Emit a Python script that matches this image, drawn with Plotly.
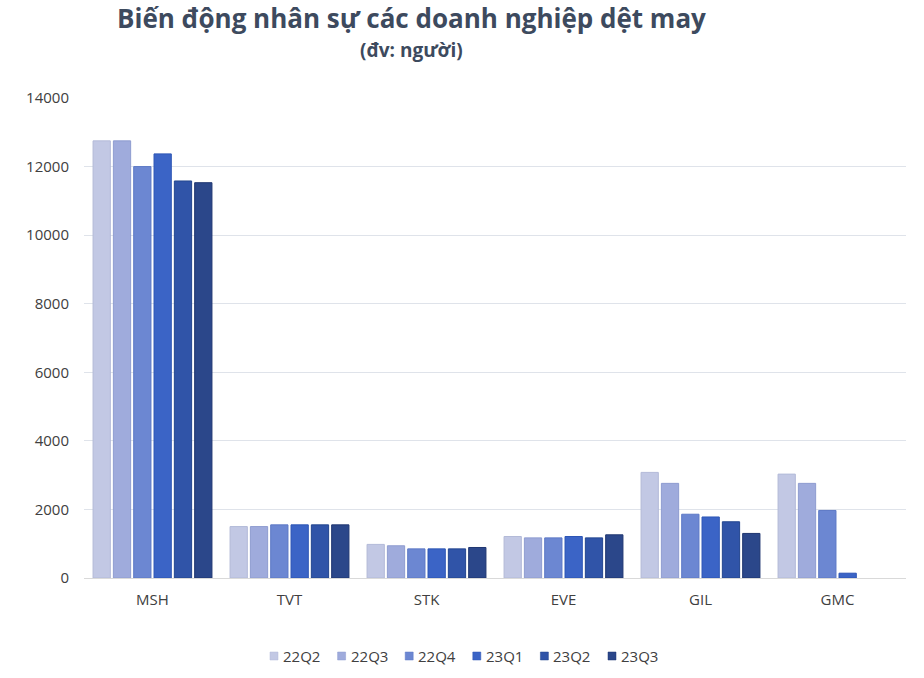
import plotly.graph_objects as go

categories = ["MSH", "TVT", "STK", "EVE", "GIL", "GMC"]
series_names = ["22Q2", "22Q3", "22Q4", "23Q1", "23Q2", "23Q3"]
q22q2 = [12750, 1500, 980, 1210, 3080, 3030]
q22q3 = [12750, 1500, 940, 1170, 2760, 2760]
q22q4 = [12000, 1550, 850, 1170, 1860, 1970]
q23q1 = [12370, 1550, 850, 1210, 1780, 140]
q23q2 = [11580, 1550, 850, 1170, 1640, 0]
q23q3 = [11530, 1550, 890, 1260, 1300, 0]
series_values = [q22q2, q22q3, q22q4, q23q1, q23q2, q23q3]
colors = ["#c2c8e4", "#9fabdc", "#6c87d2", "#3b64c6", "#3054a8", "#2b478a"]
line_colors = ["#b3bad8", "#8f9cd0", "#5d79c6", "#2d55b5", "#23468f", "#1f3670"]
y_ticks = [0, 2000, 4000, 6000, 8000, 10000, 12000, 14000]

fig = go.Figure()
for name, vals, c, lc in zip(series_names, series_values, colors, line_colors):
    fig.add_trace(go.Bar(name=name, x=categories, y=vals, showlegend=False,
                         marker=dict(color=c,
                                     line=dict(color=lc, width=[1 if v > 0 else 0 for v in vals]))))

W, H = 924, 678
L, R, T, B = 84, 18, 98, 100
pw, ph = W - L - R, H - T - B


def px(x):
    return (x - L) / pw


def py(y):
    return (H - B - y) / ph


title_x = px(411)

# custom legend (square swatch + text), laid out like the reference
shapes = []
annotations = [
    dict(text="<b>Biến động nhân sự các doanh nghiệp dệt may</b>", xref="paper", yref="paper",
         x=title_x, y=py(18), xanchor="center", yanchor="middle", showarrow=False,
         font=dict(size=26, color="#3d4a5e", family="Open Sans, sans-serif")),
    dict(text="<b>(đv: người)</b>", xref="paper", yref="paper",
         x=title_x, y=py(50), xanchor="center", yanchor="middle", showarrow=False,
         font=dict(size=19, color="#3d4a5e", family="Open Sans, sans-serif")),
]
leg_x0, leg_pitch, leg_y = 270, 67.6, 656
for i, (name, c, lc) in enumerate(zip(series_names, colors, line_colors)):
    x0 = leg_x0 + i * leg_pitch
    shapes.append(dict(type="rect", xref="paper", yref="paper",
                       x0=px(x0), x1=px(x0 + 8), y0=py(leg_y + 4), y1=py(leg_y - 4),
                       fillcolor=c, line=dict(color=lc, width=0.5)))
    annotations.append(dict(text=name, xref="paper", yref="paper", x=px(x0 + 11), y=py(leg_y),
                            xanchor="left", yanchor="middle", showarrow=False,
                            font=dict(size=15, color="#404040")))

fig.update_layout(
    width=W, height=H,
    paper_bgcolor="white", plot_bgcolor="white",
    margin=dict(l=L, r=R, t=T, b=B, autoexpand=False),
    barmode="group", bargap=0.11, bargroupgap=0.15,
    font=dict(family="Open Sans, Liberation Sans, sans-serif", color="#404040", size=15),
    showlegend=False,
    shapes=shapes,
    annotations=annotations,
)
fig.update_xaxes(showline=True, linecolor="#d9d9d9", linewidth=1, ticks="", showgrid=False,
                 tickfont=dict(size=15, color="#404040"), ticklabelstandoff=8)
fig.update_yaxes(range=[0, 14000], tickvals=y_ticks, showgrid=True, gridcolor="#dfe3ea",
                 gridwidth=1, zeroline=False, showline=False, tickformat="d",
                 ticks="", ticklen=0, ticklabelstandoff=14,
                 tickfont=dict(size=15, color="#404040"))

fig.write_html("out.html", config={"displayModeBar": False},
               post_script="document.body.style.margin='0';")
